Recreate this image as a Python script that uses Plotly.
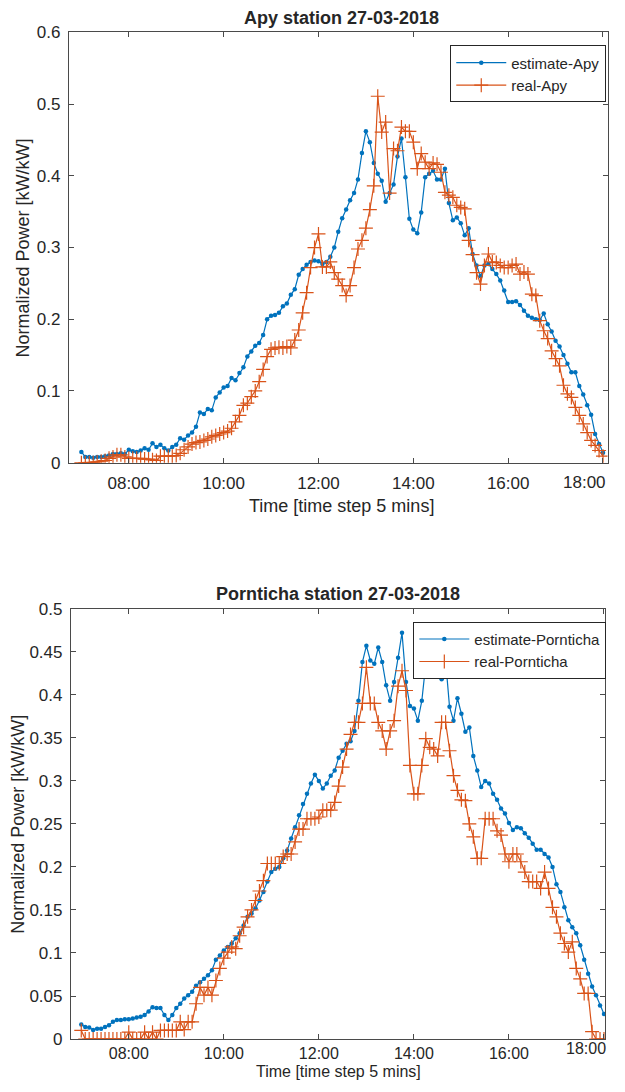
import numpy as np
import plotly.graph_objects as go

# Sample times: 07:00 to 18:00 every 5 minutes (minutes after midnight)
minutes = np.arange(7 * 60, 18 * 60 + 1, 5)

tick_vals = [480, 600, 720, 840, 960, 1080]
tick_text = ["08:00", "10:00", "12:00", "14:00", "16:00", ""]
last_tick_text = "18:00"

# Apy station, normalized power [kW/kW]
apy_estimate = [
    0.015, 0.008, 0.008, 0.007, 0.008, 0.008, 0.009, 0.010, 0.012, 0.012, 0.013, 0.012,
    0.018, 0.016, 0.015, 0.017, 0.020, 0.018, 0.027, 0.022, 0.025, 0.020, 0.017, 0.022,
    0.025, 0.034, 0.032, 0.038, 0.042, 0.050, 0.070, 0.068, 0.075, 0.073, 0.091, 0.098,
    0.105, 0.107, 0.118, 0.115, 0.125, 0.133, 0.148, 0.155, 0.163, 0.167, 0.178, 0.200,
    0.205, 0.206, 0.209, 0.218, 0.222, 0.234, 0.242, 0.262, 0.270, 0.276, 0.280, 0.282,
    0.281, 0.277, 0.280, 0.287, 0.300, 0.322, 0.341, 0.353, 0.366, 0.376, 0.395, 0.432,
    0.462, 0.447, 0.418, 0.403, 0.393, 0.364, 0.376, 0.388, 0.427, 0.452, 0.398, 0.340,
    0.325, 0.320, 0.349, 0.398, 0.403, 0.407, 0.395, 0.395, 0.410, 0.362, 0.338, 0.342,
    0.334, 0.317, 0.327, 0.291, 0.275, 0.260, 0.275, 0.277, 0.270, 0.263, 0.254, 0.240,
    0.224, 0.224, 0.225, 0.220, 0.212, 0.205, 0.202, 0.200, 0.199, 0.208, 0.193, 0.183,
    0.170, 0.162, 0.150, 0.138, 0.126, 0.126, 0.107, 0.095, 0.080, 0.067, 0.040, 0.026,
    0.014,
]
apy_real = [
    0.000, 0.000, 0.000, 0.000, 0.001, 0.002, 0.003, 0.006, 0.008, 0.011, 0.011, 0.008,
    0.006, 0.006, 0.006, 0.006, 0.005, 0.005, 0.004, 0.003, 0.009, 0.009, 0.009, 0.009,
    0.010, 0.013, 0.018, 0.022, 0.026, 0.028, 0.029, 0.031, 0.033, 0.036, 0.038, 0.040,
    0.042, 0.044, 0.048, 0.057, 0.066, 0.080, 0.083, 0.092, 0.100, 0.113, 0.130, 0.148,
    0.158, 0.160, 0.161, 0.160, 0.162, 0.160, 0.171, 0.185, 0.209, 0.237, 0.272, 0.300,
    0.319, 0.273, 0.273, 0.280, 0.265, 0.256, 0.247, 0.233, 0.247, 0.272, 0.298, 0.310,
    0.327, 0.353, 0.386, 0.511, 0.461, 0.475, 0.376, 0.438, 0.435, 0.468, 0.462, 0.462,
    0.447, 0.410, 0.431, 0.419, 0.410, 0.418, 0.416, 0.405, 0.377, 0.373, 0.370, 0.359,
    0.356, 0.354, 0.310, 0.290, 0.265, 0.249, 0.275, 0.291, 0.280, 0.279, 0.275, 0.272,
    0.272, 0.275, 0.277, 0.263, 0.266, 0.263, 0.235, 0.233, 0.198, 0.184, 0.173, 0.156,
    0.145, 0.135, 0.108, 0.096, 0.091, 0.077, 0.066, 0.054, 0.042, 0.031, 0.024, 0.017,
    0.009,
]

# Pornticha station, normalized power [kW/kW]
pornticha_estimate = [
    0.017, 0.014, 0.0135, 0.0105, 0.012, 0.012, 0.014, 0.016, 0.020, 0.022, 0.022, 0.023,
    0.023, 0.024, 0.025, 0.026, 0.028, 0.032, 0.037, 0.036, 0.036, 0.028, 0.022, 0.028,
    0.036, 0.041, 0.047, 0.051, 0.055, 0.062, 0.066, 0.070, 0.074, 0.080, 0.092, 0.097,
    0.103, 0.107, 0.111, 0.117, 0.123, 0.132, 0.142, 0.146, 0.152, 0.161, 0.171, 0.183,
    0.194, 0.198, 0.200, 0.210, 0.219, 0.233, 0.246, 0.260, 0.273, 0.285, 0.297, 0.307,
    0.300, 0.291, 0.297, 0.306, 0.312, 0.327, 0.335, 0.343, 0.346, 0.358, 0.393, 0.438,
    0.457, 0.440, 0.436, 0.455, 0.438, 0.411, 0.393, 0.415, 0.443, 0.472, 0.415, 0.387,
    0.384, 0.370, 0.393, 0.436, 0.455, 0.460, 0.450, 0.418, 0.440, 0.386, 0.370, 0.396,
    0.378, 0.357, 0.362, 0.329, 0.312, 0.293, 0.300, 0.297, 0.285, 0.278, 0.268, 0.262,
    0.251, 0.243, 0.246, 0.245, 0.239, 0.234, 0.227, 0.220, 0.220, 0.215, 0.211, 0.200,
    0.180, 0.171, 0.153, 0.138, 0.130, 0.123, 0.109, 0.092, 0.076, 0.061, 0.051, 0.039,
    0.029,
]
pornticha_real = [
    0.010, 0.000, 0.000, 0.000, 0.000, 0.000, 0.000, 0.000, 0.000, 0.000, 0.000, 0.000,
    0.008, 0.000, 0.000, 0.000, 0.008, 0.000, 0.008, 0.000, 0.010, 0.010, 0.010, 0.010,
    0.010, 0.020, 0.011, 0.020, 0.020, 0.041, 0.060, 0.051, 0.060, 0.051, 0.068, 0.082,
    0.094, 0.101, 0.107, 0.105, 0.120, 0.130, 0.142, 0.150, 0.161, 0.172, 0.184, 0.204,
    0.204, 0.204, 0.204, 0.212, 0.215, 0.215, 0.229, 0.244, 0.244, 0.256, 0.256, 0.256,
    0.258, 0.266, 0.266, 0.266, 0.275, 0.294, 0.316, 0.337, 0.354, 0.368, 0.368, 0.390,
    0.432, 0.390, 0.390, 0.368, 0.358, 0.337, 0.358, 0.370, 0.410, 0.428, 0.405, 0.318,
    0.285, 0.285, 0.318, 0.349, 0.339, 0.337, 0.329, 0.368, 0.368, 0.335, 0.306, 0.289,
    0.278, 0.277, 0.250, 0.235, 0.210, 0.210, 0.256, 0.256, 0.256, 0.242, 0.237, 0.215,
    0.206, 0.215, 0.215, 0.206, 0.194, 0.183, 0.183, 0.183, 0.175, 0.194, 0.175, 0.153,
    0.142, 0.123, 0.111, 0.101, 0.113, 0.082, 0.070, 0.053, 0.053, 0.0085, 0.000, 0.000,
    0.000,
]

W, H = 609, 1092
BLUE = "#0072BD"
ORANGE = "#D95319"
AXIS = "#4a4a4a"
TEXT = "#262626"
FONT = "Liberation Sans"

# Layout positions below are given in window pixels; these map them onto the
# figure's paper coordinates.
Y_OFF, Y_SCALE = 8.6, 0.982


def px_x(p):
    return min(max(p / W, 0.0), 1.0)


def px_y(p):
    return min(max(1 - (p - Y_OFF) / Y_SCALE / H, 0.0), 1.0)


def estimate_trace(y, name, xa, ya, legend):
    return go.Scatter(
        x=minutes, y=y, name=name, xaxis=xa, yaxis=ya, legend=legend,
        mode="lines+markers",
        line=dict(color=BLUE, width=1.2),
        marker=dict(symbol="circle", size=4.5, color=BLUE),
    )


def real_trace(y, name, xa, ya, legend):
    return go.Scatter(
        x=minutes, y=y, name=name, xaxis=xa, yaxis=ya, legend=legend,
        mode="lines+markers",
        line=dict(color=ORANGE, width=1.2),
        marker=dict(symbol="cross-thin", size=10, color=ORANGE,
                    line=dict(color=ORANGE, width=1.2)),
    )


fig = go.Figure()
fig.add_trace(estimate_trace(apy_estimate, "estimate-Apy", "x", "y", "legend"))
fig.add_trace(real_trace(apy_real, "real-Apy", "x", "y", "legend"))
fig.add_trace(estimate_trace(pornticha_estimate, "estimate-Pornticha", "x2", "y2", "legend2"))
fig.add_trace(real_trace(pornticha_real, "real-Pornticha", "x2", "y2", "legend2"))

axis_common = dict(
    showline=True, linecolor=AXIS, linewidth=1, mirror="ticks",
    ticks="inside", ticklen=5, tickwidth=1, tickcolor=AXIS,
    showgrid=False, zeroline=False, ticklabeloverflow="allow",
)
tick_font = dict(family=FONT, size=17, color=TEXT)
bottom_time_font = dict(family=FONT, size=16, color=TEXT)

legend_common = dict(
    bgcolor="white", bordercolor="#262626", borderwidth=1,
    font=dict(family=FONT, size=15, color=TEXT),
    xanchor="left", yanchor="top", tracegroupgap=0,
    itemwidth=50,
)

fig.update_layout(
    width=W, height=H,
    margin=dict(l=0, r=0, t=0, b=0),
    paper_bgcolor="white", plot_bgcolor="white",
    font=dict(family=FONT, size=15, color=TEXT),
    xaxis=dict(domain=[px_x(69), px_x(608.5)], anchor="y", range=[404.2, 1085.7],
               tickvals=tick_vals, ticktext=tick_text, ticklabelstandoff=5,
               tickfont=tick_font, **axis_common),
    yaxis=dict(domain=[px_y(462), px_y(32)], anchor="x", range=[0, 0.6],
               tickvals=[0, 0.1, 0.2, 0.3, 0.4, 0.5, 0.6],
               ticktext=["0", "0.1", "0.2", "0.3", "0.4", "0.5", "0.6"],
               ticklabelstandoff=4, tickfont=tick_font, **axis_common),
    xaxis2=dict(domain=[px_x(71), px_x(606)], anchor="y2", range=[406.9, 1081.3],
                tickvals=tick_vals, ticktext=tick_text, ticklabelstandoff=0,
                tickfont=bottom_time_font, **axis_common),
    yaxis2=dict(domain=[px_y(1038), px_y(608)], anchor="x2", range=[0, 0.5],
                tickvals=[0, 0.05, 0.1, 0.15, 0.2, 0.25, 0.3, 0.35, 0.4, 0.45, 0.5],
                ticktext=["0", "0.05", "0.1", "0.15", "0.2", "0.25", "0.3",
                          "0.35", "0.4", "0.45", "0.5"],
                ticklabelstandoff=4, tickfont=tick_font, **axis_common),
    legend=dict(x=px_x(451), y=px_y(45), **legend_common),
    legend2=dict(x=px_x(414), y=px_y(621), **legend_common),
    showlegend=True,
)

annotations = [
    dict(text="<b>Apy station 27-03-2018</b>", x=px_x(342), y=px_y(18),
         font=dict(size=18)),
    dict(text="<b>Pornticha station 27-03-2018</b>", x=px_x(339), y=px_y(593),
         font=dict(size=18)),
    dict(text="Time [time step 5 mins]", x=px_x(342), y=px_y(505),
         font=dict(size=18)),
    dict(text="Time [time step 5 mins]", x=px_x(339), y=0.0, yanchor="bottom",
         font=dict(size=16)),
    dict(text="Normalized Power [kW/kW]", x=px_x(23), y=px_y(247),
         textangle=-90, font=dict(size=18)),
    dict(text="Normalized Power [kW/kW]", x=px_x(18), y=px_y(823),
         textangle=-90, font=dict(size=18)),
    # last time tick label, kept flush with the right edge of the figure
    dict(text=last_tick_text, x=1.0, xanchor="right", y=px_y(482),
         font=dict(size=17)),
    dict(text=last_tick_text, x=1.0, xanchor="right", y=px_y(1047),
         font=dict(size=16)),
]
for a in annotations:
    a.setdefault("yanchor", "middle")
    a.setdefault("xanchor", "center")
    a.update(xref="paper", yref="paper", showarrow=False)
    a["font"].update(family=FONT, color=TEXT)
fig.update_layout(annotations=annotations)

fig.write_html("out.html")
